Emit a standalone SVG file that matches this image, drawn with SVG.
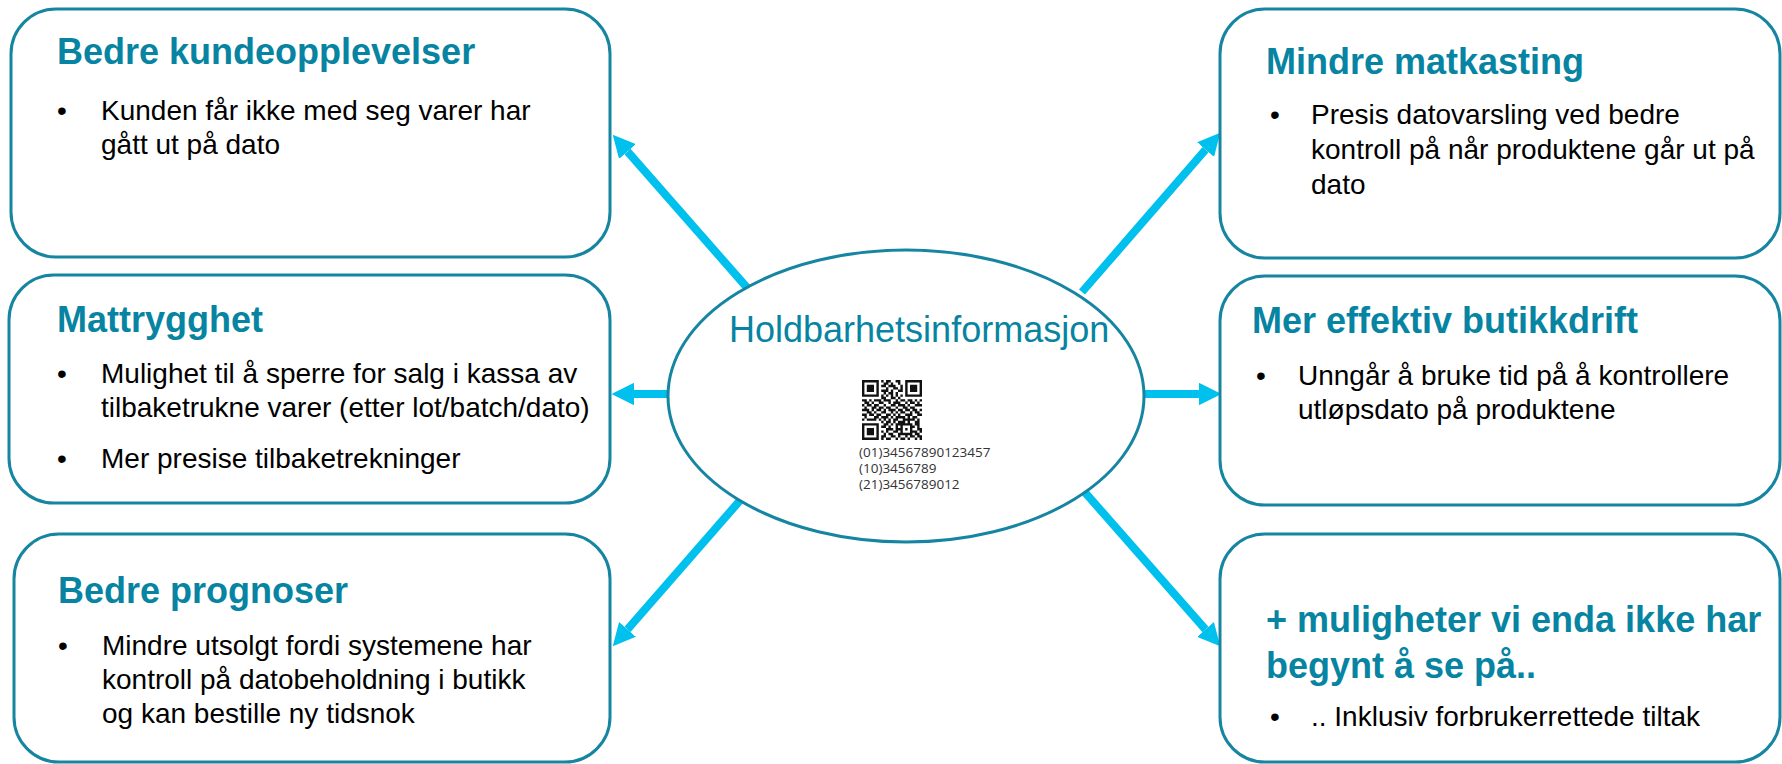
<svg xmlns="http://www.w3.org/2000/svg" width="1782" height="764" viewBox="0 0 1782 764">
<style>
.box{fill:#fff;stroke:#1685a1;stroke-width:3}
.title{font-family:"Liberation Sans",Arial,sans-serif;font-weight:bold;font-size:36px;fill:#0684a2}
.body{font-family:"Liberation Sans",Arial,sans-serif;font-size:28px;fill:#000}
.conn{stroke:#00c0ee;stroke-width:8;fill:none}
.qrt{font-family:"Open Sans","DejaVu Sans",sans-serif;font-size:13.5px;fill:#333}
</style>
<defs>
<marker id="ah" viewBox="0 0 10 10" refX="0" refY="5" markerWidth="2.8" markerHeight="2.8" orient="auto"><path d="M0,0 L10,5 L0,10 z" fill="#00c0ee"/></marker>
</defs>
<rect width="1782" height="764" fill="#fff"/>
<g id="connectors">
<line class="conn" x1="750" y1="291" x2="627.5" y2="151.5" marker-end="url(#ah)"/>
<line class="conn" x1="680" y1="394" x2="634" y2="394" marker-end="url(#ah)"/>
<line class="conn" x1="750" y1="489" x2="627.5" y2="629.4" marker-end="url(#ah)"/>
<line class="conn" x1="1082" y1="292" x2="1205.6" y2="149.6" marker-end="url(#ah)"/>
<line class="conn" x1="1132" y1="394" x2="1199" y2="394" marker-end="url(#ah)"/>
<line class="conn" x1="1082" y1="489" x2="1205.5" y2="629.5" marker-end="url(#ah)"/>
</g>
<g id="center">
<ellipse cx="906" cy="396" rx="238" ry="146" fill="#fff" stroke="#1685a1" stroke-width="3"/>
<text x="729" y="342" font-family="Liberation Sans, Arial, sans-serif" font-size="36" fill="#0684a2">Holdbarhetsinformasjon</text>
<g transform="translate(862,380) scale(2.4)" fill="#111">
<path d="M0 0h7v1h-7zM8 0h1v1h-1zM10 0h2v1h-2zM14 0h2v1h-2zM18 0h7v1h-7z
M0 1h1v1h-1zM6 1h1v1h-1zM9 1h2v1h-2zM12 1h1v1h-1zM15 1h1v1h-1zM18 1h1v1h-1zM24 1h1v1h-1z
M0 2h1v1h-1zM2 2h3v1h-3zM6 2h1v1h-1zM8 2h2v1h-2zM11 2h3v1h-3zM16 2h1v1h-1zM18 2h1v1h-1zM20 2h3v1h-3zM24 2h1v1h-1z
M0 3h1v1h-1zM2 3h3v1h-3zM6 3h1v1h-1zM10 3h1v1h-1zM13 3h2v1h-2zM16 3h1v1h-1zM18 3h1v1h-1zM20 3h3v1h-3zM24 3h1v1h-1z
M0 4h1v1h-1zM2 4h3v1h-3zM6 4h1v1h-1zM8 4h3v1h-3zM12 4h1v1h-1zM15 4h2v1h-2zM18 4h1v1h-1zM20 4h3v1h-3zM24 4h1v1h-1z
M0 5h1v1h-1zM6 5h1v1h-1zM9 5h1v1h-1zM11 5h2v1h-2zM14 5h1v1h-1zM18 5h1v1h-1zM24 5h1v1h-1z
M0 6h7v1h-7zM8 6h1v1h-1zM10 6h1v1h-1zM12 6h1v1h-1zM14 6h1v1h-1zM16 6h1v1h-1zM18 6h7v1h-7z
M8 7h2v1h-2zM12 7h2v1h-2zM15 7h1v1h-1z
M0 8h2v1h-2zM3 8h1v1h-1zM5 8h3v1h-3zM9 8h3v1h-3zM14 8h1v1h-1zM16 8h2v1h-2zM19 8h2v1h-2zM22 8h1v1h-1zM24 8h1v1h-1z
M1 9h2v1h-2zM4 9h1v1h-1zM7 9h2v1h-2zM11 9h1v1h-1zM13 9h3v1h-3zM18 9h1v1h-1zM20 9h2v1h-2zM23 9h1v1h-1z
M0 10h1v1h-1zM2 10h2v1h-2zM5 10h2v1h-2zM9 10h1v1h-1zM12 10h2v1h-2zM15 10h3v1h-3zM19 10h1v1h-1zM22 10h3v1h-3z
M1 11h1v1h-1zM4 11h2v1h-2zM7 11h2v1h-2zM10 11h2v1h-2zM14 11h1v1h-1zM17 11h2v1h-2zM20 11h2v1h-2z
M0 12h3v1h-3zM4 12h1v1h-1zM6 12h2v1h-2zM9 12h1v1h-1zM11 12h3v1h-3zM15 12h2v1h-2zM18 12h2v1h-2zM21 12h2v1h-2zM24 12h1v1h-1z
M2 13h2v1h-2zM5 13h1v1h-1zM8 13h2v1h-2zM12 13h1v1h-1zM14 13h1v1h-1zM16 13h2v1h-2zM20 13h1v1h-1zM22 13h2v1h-2z
M0 14h2v1h-2zM3 14h2v1h-2zM6 14h2v1h-2zM10 14h2v1h-2zM13 14h1v1h-1zM15 14h1v1h-1zM18 14h3v1h-3zM23 14h2v1h-2z
M1 15h1v1h-1zM5 15h2v1h-2zM8 15h3v1h-3zM12 15h1v1h-1zM14 15h4v1h-4zM19 15h1v1h-1zM21 15h2v1h-2z
M0 16h1v1h-1zM2 16h4v1h-4zM7 16h1v1h-1zM9 16h1v1h-1zM11 16h1v1h-1zM13 16h2v1h-2zM17 16h5v1h-5zM23 16h1v1h-1z
M8 17h1v1h-1zM10 17h2v1h-2zM13 17h1v1h-1zM15 17h3v1h-3zM19 17h1v1h-1zM22 17h2v1h-2z
M0 18h7v1h-7zM9 18h2v1h-2zM12 18h1v1h-1zM14 18h7v1h-7zM22 18h2v1h-2z
M0 19h1v1h-1zM6 19h1v1h-1zM8 19h2v1h-2zM11 19h1v1h-1zM14 19h1v1h-1zM16 19h1v1h-1zM20 19h2v1h-2zM23 19h1v1h-1z
M0 20h1v1h-1zM2 20h3v1h-3zM6 20h1v1h-1zM10 20h3v1h-3zM14 20h3v1h-3zM18 20h1v1h-1zM20 20h1v1h-1zM23 20h2v1h-2z
M0 21h1v1h-1zM2 21h3v1h-3zM6 21h1v1h-1zM8 21h1v1h-1zM10 21h1v1h-1zM13 21h2v1h-2zM16 21h1v1h-1zM20 21h3v1h-3zM24 21h1v1h-1z
M0 22h1v1h-1zM2 22h3v1h-3zM6 22h1v1h-1zM9 22h1v1h-1zM11 22h2v1h-2zM15 22h6v1h-6zM22 22h2v1h-2z
M0 23h1v1h-1zM6 23h1v1h-1zM8 23h2v1h-2zM12 23h2v1h-2zM15 23h1v1h-1zM18 23h1v1h-1zM20 23h2v1h-2zM23 23h2v1h-2z
M0 24h7v1h-7zM8 24h1v1h-1zM10 24h2v1h-2zM14 24h1v1h-1zM16 24h2v1h-2zM19 24h1v1h-1zM22 24h1v1h-1zM24 24h1v1h-1z"/>
</g>
<text class="qrt" x="859" y="457">(01)34567890123457</text>
<text class="qrt" x="859" y="473">(10)3456789</text>
<text class="qrt" x="859" y="489">(21)3456789012</text>
</g>
<g id="box-kundeopplevelser">
<rect class="box" x="11" y="9" width="599" height="248" rx="45"/>
<text class="title" x="57" y="64">Bedre kundeopplevelser</text>
<text class="body" x="57" y="120">•</text>
<text class="body" x="101" y="120">Kunden får ikke med seg varer har</text>
<text class="body" x="101" y="154">gått ut på dato</text>
</g>
<g id="box-mattrygghet">
<rect class="box" x="9" y="275" width="601" height="228" rx="45"/>
<text class="title" x="57" y="332">Mattrygghet</text>
<text class="body" x="57" y="383">•</text>
<text class="body" x="101" y="383">Mulighet til å sperre for salg i kassa av</text>
<text class="body" x="101" y="417">tilbaketrukne varer (etter lot/batch/dato)</text>
<text class="body" x="57" y="468">•</text>
<text class="body" x="101" y="468">Mer presise tilbaketrekninger</text>
</g>
<g id="box-prognoser">
<rect class="box" x="14" y="534" width="596" height="228" rx="45"/>
<text class="title" x="58" y="603">Bedre prognoser</text>
<text class="body" x="58" y="655">•</text>
<text class="body" x="102" y="655">Mindre utsolgt fordi systemene har</text>
<text class="body" x="102" y="689">kontroll på datobeholdning i butikk</text>
<text class="body" x="102" y="723">og kan bestille ny tidsnok</text>
</g>
<g id="box-matkasting">
<rect class="box" x="1220" y="9" width="560" height="249" rx="45"/>
<text class="title" x="1266" y="74">Mindre matkasting</text>
<text class="body" x="1270" y="124">•</text>
<text class="body" x="1311" y="124">Presis datovarsling ved bedre</text>
<text class="body" x="1311" y="159">kontroll på når produktene går ut på</text>
<text class="body" x="1311" y="194">dato</text>
</g>
<g id="box-butikkdrift">
<rect class="box" x="1220" y="276" width="560" height="229" rx="45"/>
<text class="title" x="1252" y="333">Mer effektiv butikkdrift</text>
<text class="body" x="1256" y="385">•</text>
<text class="body" x="1298" y="385">Unngår å bruke tid på å kontrollere</text>
<text class="body" x="1298" y="419">utløpsdato på produktene</text>
</g>
<g id="box-muligheter">
<rect class="box" x="1220" y="534" width="560" height="228" rx="45"/>
<text class="title" x="1266" y="632">+ muligheter vi enda ikke har</text>
<text class="title" x="1266" y="678">begynt å se på..</text>
<text class="body" x="1270" y="726">•</text>
<text class="body" x="1311" y="726">.. Inklusiv forbrukerrettede tiltak</text>
</g>
</svg>
